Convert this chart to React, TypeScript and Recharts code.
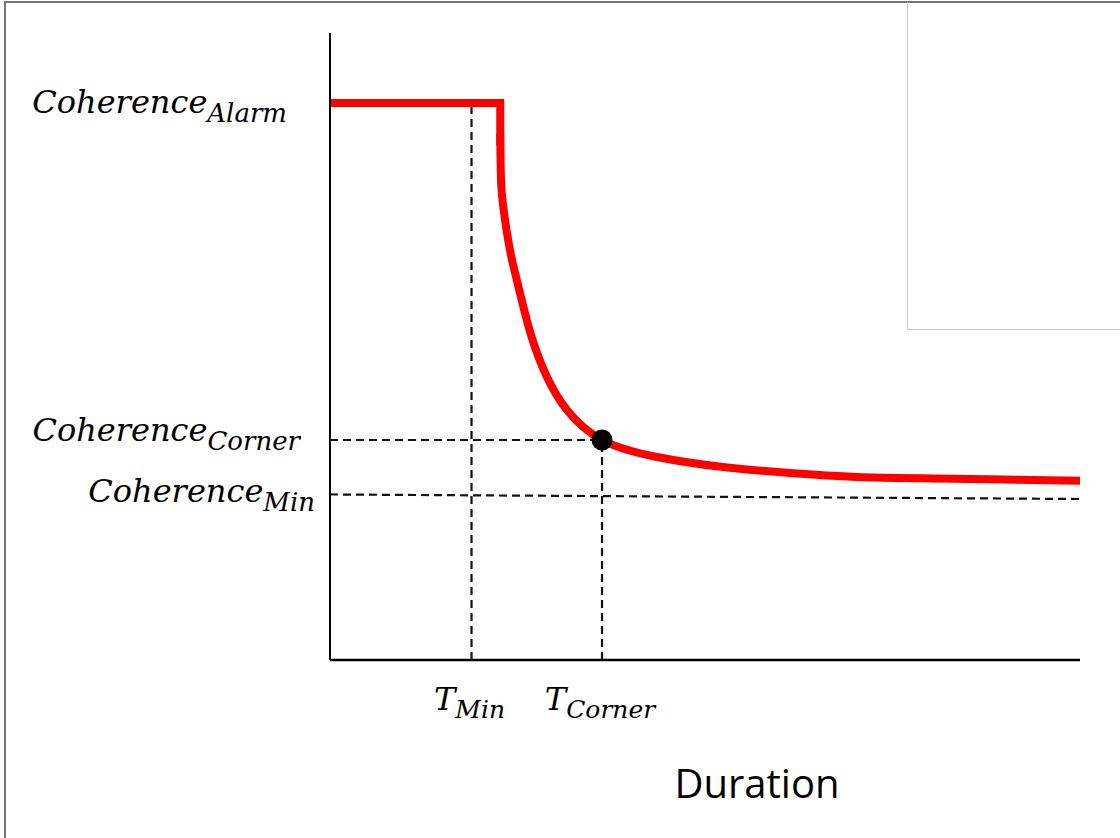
import {
  ComposedChart,
  Line,
  Scatter,
  XAxis,
  YAxis,
  ReferenceLine,
  Label,
} from "recharts";

// flat "alarm" level, then the drop
const STEP_X = [0, 22.7, 22.7];
const STEP_Y = [88.84, 88.84, 82];

// decay curve
const CURVE_X = [22.7, 22.8, 23.07, 23.6, 24.27, 25.07, 26.8, 28.93, 31.6, 36.27, 43.6, 52.4, 61.33, 70.27, 79.07, 88, 100];
const CURVE_Y = [84, 76.56, 72.57, 68.1, 63.8, 59.81, 51.83, 45.14, 39.87, 35.09, 32.38, 30.78, 29.82, 29.19, 28.98, 28.82, 28.6];

const CORNER = { x: 36.27, y: 35.09 };
const T_MIN = 18.87;
const COH_ALARM = 88.84;
const COH_MIN_START = 26.4;
const COH_MIN_END = 25.68;

const Y_TICK_VALUES = [COH_ALARM, CORNER.y, COH_MIN_START];
const Y_TICK_SUBS = ["Alarm", "Corner", "Min"];
const X_TICK_VALUES = [T_MIN, CORNER.x];
const X_TICK_SUBS = ["Min", "Corner"];

// label nudges (right gap from axis, baseline shift)
const Y_LABEL_LAYOUT = [
  { gap: 43, down: 10 },
  { gap: 30, down: 1 },
  { gap: 15, down: 8 },
];

const stepData = STEP_X.map((x, i) => ({ x, y: STEP_Y[i] }));
const curveData = CURVE_X.map((x, i) => ({ x, y: CURVE_Y[i] }));

const MATH_FONT = "'DejaVu Serif', 'Liberation Serif', serif";
const dash = { stroke: "#111", strokeWidth: 2.2, strokeDasharray: "8 5" };

function YTick(props: any) {
  const { x, y, payload } = props;
  const i = Y_TICK_VALUES.indexOf(payload.value);
  const lay = Y_LABEL_LAYOUT[i] ?? { gap: 20, down: 0 };
  return (
    <text
      x={x - lay.gap}
      y={y + lay.down}
      textAnchor="end"
      fontFamily={MATH_FONT}
      fontStyle="italic"
      fontSize={32}
      fill="#000"
    >
      <tspan>Coherence</tspan>
      <tspan dy={9} fontSize={26}>
        {Y_TICK_SUBS[i]}
      </tspan>
    </text>
  );
}

function XTick(props: any) {
  const { x, y, payload } = props;
  const i = X_TICK_VALUES.indexOf(payload.value);
  return (
    <text
      x={x - 2}
      y={y + 50}
      textAnchor="middle"
      fontFamily={MATH_FONT}
      fontStyle="italic"
      fontSize={32}
      fill="#000"
    >
      <tspan>T</tspan>
      <tspan dy={8} fontSize={25}>
        {X_TICK_SUBS[i]}
      </tspan>
    </text>
  );
}

export default function App() {
  return (
    <div style={{ position: "relative", width: 1120, height: 838, background: "#fff", overflow: "hidden" }}>
      <style>{`body{margin:0}`}</style>
      <div
        style={{
          position: "absolute",
          left: 4,
          top: 1,
          width: 1120,
          height: 840,
          borderTop: "2px solid #777",
          borderLeft: "2px solid #777",
        }}
      />
      <div
        style={{
          position: "absolute",
          left: 907,
          top: 2,
          width: 213,
          height: 327,
          borderLeft: "1px solid #c8c8c8",
          borderBottom: "1px solid #c8c8c8",
        }}
      />
      <div style={{ position: "absolute", left: 0, top: 0 }}>
        <ComposedChart width={1120} height={838} margin={{ top: 33, right: 40, bottom: 0, left: 0 }}>
          <XAxis
            type="number"
            dataKey="x"
            domain={[0, 100]}
            ticks={X_TICK_VALUES}
            tick={<XTick />}
            tickLine={false}
            tickSize={0}
            tickMargin={0}
            axisLine={{ stroke: "#000", strokeWidth: 2.5 }}
            height={178}
            interval={0}
          >
            <Label
              content={() => (
                <text x={757} y={798} textAnchor="middle" fontFamily="'Open Sans', sans-serif" fontSize={40} fill="#000">
                  Duration
                </text>
              )}
            />
          </XAxis>
          <YAxis
            type="number"
            dataKey="y"
            domain={[0, 100]}
            ticks={Y_TICK_VALUES}
            tick={<YTick />}
            tickLine={false}
            tickSize={0}
            tickMargin={0}
            axisLine={{ stroke: "#000", strokeWidth: 2 }}
            width={330}
            interval={0}
          />
          <ReferenceLine segment={[{ x: T_MIN, y: 0 }, { x: T_MIN, y: 88.2 }]} {...dash} />
          <ReferenceLine segment={[{ x: CORNER.x, y: 0 }, { x: CORNER.x, y: CORNER.y }]} {...dash} />
          <ReferenceLine segment={[{ x: 0, y: CORNER.y }, { x: CORNER.x, y: CORNER.y }]} {...dash} />
          <ReferenceLine segment={[{ x: 0, y: COH_MIN_START }, { x: 100, y: COH_MIN_END }]} {...dash} />
          <Line
            data={stepData}
            dataKey="y"
            type="linear"
            stroke="#ff0000"
            strokeWidth={8}
            strokeLinejoin="miter"
            dot={false}
            activeDot={false}
            isAnimationActive={false}
          />
          <Line
            data={curveData}
            dataKey="y"
            type="natural"
            stroke="#ff0000"
            strokeWidth={8}
            dot={false}
            activeDot={false}
            isAnimationActive={false}
          />
          <Scatter
            data={[CORNER]}
            dataKey="y"
            fill="#000"
            isAnimationActive={false}
            shape={(p: any) => <circle cx={p.cx} cy={p.cy} r={10.5} fill="#000" />}
          />
        </ComposedChart>
      </div>
    </div>
  );
}
